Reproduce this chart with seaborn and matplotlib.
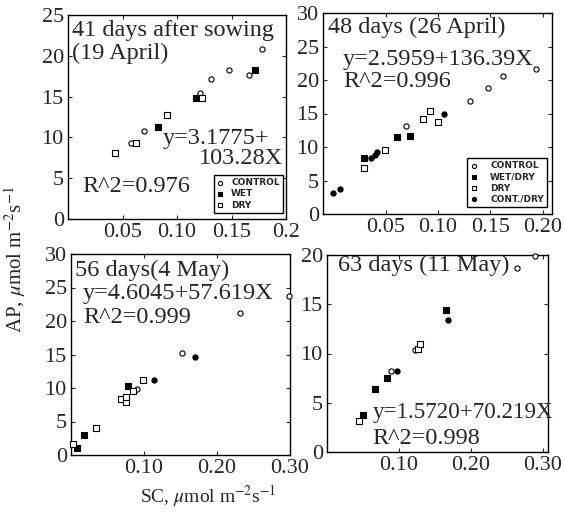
import matplotlib
matplotlib.use("Agg")
import matplotlib.pyplot as plt
import seaborn as sns
import pandas as pd

# ---------------- data ----------------
# Panel 1: 41 days after sowing (19 April)
p1_control_x = [0.058, 0.070, 0.121, 0.131, 0.148, 0.166, 0.178]
p1_control_y = [9.3, 10.8, 15.5, 17.1, 18.2, 17.6, 20.8]
p1_wet_x = [0.083, 0.117, 0.172]
p1_wet_y = [11.3, 14.8, 18.2]
p1_dry_x = [0.043, 0.062, 0.091, 0.123]
p1_dry_y = [8.1, 9.3, 12.8, 14.8]

# Panel 2: 48 days (26 April)
p2_control_x = [0.069, 0.131, 0.148, 0.162, 0.194]
p2_control_y = [13.1, 16.9, 18.8, 20.6, 21.7]
p2_wetdry_x = [0.029, 0.061, 0.073]
p2_wetdry_y = [8.3, 11.5, 11.7]
p2_dry_x = [0.029, 0.049, 0.086, 0.092, 0.100]
p2_dry_y = [6.9, 9.6, 14.2, 15.4, 13.7]
p2_contdry_x = [0.000, 0.006, 0.036, 0.040, 0.042, 0.106]
p2_contdry_y = [3.2, 3.75, 8.3, 8.85, 9.2, 14.95]

# Panel 3: 56 days (4 May)
p3_control_x = [0.090, 0.152, 0.232, 0.298]
p3_control_y = [9.8, 15.2, 21.2, 23.8]
p3_wetdry_x = [0.008, 0.018, 0.078]
p3_wetdry_y = [1.1, 3.0, 10.3]
p3_dry_x = [0.003, 0.034, 0.069, 0.075, 0.076, 0.085, 0.099]
p3_dry_y = [1.6, 4.0, 8.4, 7.9, 8.7, 9.6, 11.2]
p3_contdry_x = [0.114, 0.170]
p3_contdry_y = [11.2, 14.6]

# Panel 4: 63 days (11 May)
p4_control_x = [0.0885, 0.122, 0.2635, 0.289]
p4_control_y = [8.2, 10.4, 18.65, 19.9]
p4_wetdry_x = [0.050, 0.067, 0.084, 0.166]
p4_wetdry_y = [3.8, 6.4, 7.5, 14.4]
p4_dry_x = [0.045, 0.127, 0.129]
p4_dry_y = [3.1, 10.5, 11.0]
p4_contdry_x = [0.097, 0.1685]
p4_contdry_y = [8.25, 13.4]

titles = ["41 days after sowing", "48 days (26 April)", "56 days(4 May)", "63 days (11 May)"]
subtitle1 = "(19 April)"
equations = ["y=3.1775+", "y=2.5959+136.39X", "y=4.6045+57.619X", "y=1.5720+70.219X"]
equation1_cont = "103.28X"
r2_texts = ["R^2=0.976", "R^2=0.996", "R^2=0.999", "R^2=0.998"]

x_ticks = [[0.05, 0.10, 0.15, 0.20], [0.05, 0.10, 0.15, 0.20], [0.10, 0.20, 0.30], [0.10, 0.20, 0.30]]
x_ticklabels = [["0.05", "0.10", "0.15", "0.2"], ["0.05", "0.10", "0.15", "0.20"],
                ["0.10", "0.20", "0.30"], ["0.10", "0.20", "0.30"]]
y_ticks = [[0, 5, 10, 15, 20, 25], [0, 5, 10, 15, 20, 25, 30],
           [0, 5, 10, 15, 20, 25, 30], [0, 5, 10, 15, 20]]

# ---------------- styling ----------------
sns.set_style("ticks")
plt.rcParams['font.family'] = ['Liberation Serif', 'DejaVu Serif']
plt.rcParams['mathtext.fontset'] = 'stix'

STYLE = {
    "CONTROL": dict(marker='o', color='white', edgecolor='black'),
    "WET": dict(marker='s', color='black', edgecolor='black'),
    "WET/DRY": dict(marker='s', color='black', edgecolor='black'),
    "DRY": dict(marker='s', color='white', edgecolor='black'),
    "CONT./DRY": dict(marker='o', color='black', edgecolor='black'),
}

def make_df(groups):
    rows = []
    for name, xs, ys in groups:
        for x, y in zip(xs, ys):
            rows.append({"SC": x, "AP": y, "group": name})
    return pd.DataFrame(rows)

panels = [
    make_df([("CONTROL", p1_control_x, p1_control_y), ("WET", p1_wet_x, p1_wet_y),
             ("DRY", p1_dry_x, p1_dry_y)]),
    make_df([("CONTROL", p2_control_x, p2_control_y), ("WET/DRY", p2_wetdry_x, p2_wetdry_y),
             ("DRY", p2_dry_x, p2_dry_y), ("CONT./DRY", p2_contdry_x, p2_contdry_y)]),
    make_df([("CONTROL", p3_control_x, p3_control_y), ("WET/DRY", p3_wetdry_x, p3_wetdry_y),
             ("DRY", p3_dry_x, p3_dry_y), ("CONT./DRY", p3_contdry_x, p3_contdry_y)]),
    make_df([("CONTROL", p4_control_x, p4_control_y), ("WET/DRY", p4_wetdry_x, p4_wetdry_y),
             ("DRY", p4_dry_x, p4_dry_y), ("CONT./DRY", p4_contdry_x, p4_contdry_y)]),
]

W, H = 565, 513
fig = plt.figure(figsize=(W / 100, H / 100), dpi=100)

# axes boxes in pixels: left, right, top, bottom
boxes = [(68, 286, 15, 219), (323, 552, 13, 214), (71, 290, 254, 455), (327, 548, 255, 452)]
xlims = [(0, 0.2), (-0.01, 0.209), (0, 0.30), (0, 0.307)]
ylims = [(0, 25), (0, 30), (0, 30), (0, 20)]

axes = []
for (l, r, t, b) in boxes:
    axes.append(fig.add_axes([l / W, (H - b) / H, (r - l) / W, (b - t) / H]))

tick_fs = 16
txt_fs = 17.5

for i, ax in enumerate(axes):
    df = panels[i]
    for g in df["group"].unique():
        sub = df[df["group"] == g]
        sns.scatterplot(data=sub, x="SC", y="AP", ax=ax, s=14, linewidth=0.8,
                        label=g, clip_on=False, zorder=3, **STYLE[g])
    ax.set_xlim(*xlims[i])
    ax.set_ylim(*ylims[i])
    ax.set_xticks(x_ticks[i])
    ax.set_xticklabels(x_ticklabels[i])
    ax.set_yticks(y_ticks[i])
    ax.set_xlabel("")
    ax.set_ylabel("")
    ax.tick_params(direction='in', length=3, width=0.8, labelsize=tick_fs, pad=3,
                   top=True, right=True)
    for sp in ax.spines.values():
        sp.set_linewidth(1.0)
        sp.set_color('black')
    if ax.get_legend() is not None:
        ax.get_legend().remove()

# panel texts
a1, a2, a3, a4 = axes
a1.text(0.018, 0.926, titles[0], transform=a1.transAxes, fontsize=txt_fs, va='center', ha='left')
a1.text(0.018, 0.814, subtitle1, transform=a1.transAxes, fontsize=txt_fs, va='center', ha='left')
a1.text(0.436, 0.397, equations[0], transform=a1.transAxes, fontsize=txt_fs, va='center', ha='left')
a1.text(0.986, 0.299, equation1_cont, transform=a1.transAxes, fontsize=txt_fs, va='center', ha='right')
a1.text(0.064, 0.157, r2_texts[0], transform=a1.transAxes, fontsize=txt_fs, va='center', ha='left')

a2.text(0.022, 0.930, titles[1], transform=a2.transAxes, fontsize=txt_fs, va='center', ha='left')
a2.text(0.087, 0.771, equations[1], transform=a2.transAxes, fontsize=txt_fs, va='center', ha='left')
a2.text(0.087, 0.657, r2_texts[1], transform=a2.transAxes, fontsize=txt_fs, va='center', ha='left')

a3.text(0.018, 0.920, titles[2], transform=a3.transAxes, fontsize=txt_fs, va='center', ha='left')
a3.text(0.055, 0.801, equations[2], transform=a3.transAxes, fontsize=txt_fs, va='center', ha='left')
a3.text(0.055, 0.682, r2_texts[2], transform=a3.transAxes, fontsize=txt_fs, va='center', ha='left')

a4.text(0.050, 0.949, titles[3], transform=a4.transAxes, fontsize=txt_fs, va='center', ha='left')
a4.text(0.208, 0.203, equations[3], transform=a4.transAxes, fontsize=16.6, va='center', ha='left')
a4.text(0.204, 0.071, r2_texts[3], transform=a4.transAxes, fontsize=txt_fs, va='center', ha='left')

# legends
for ax, anchor, fs, htp in [(a1, (0.986, 0.03), 6.5, 0.8), (a2, (0.978, 0.035), 6.5, 1.4)]:
    leg = ax.legend(loc='lower right', bbox_to_anchor=anchor,
                    prop={'family': 'DejaVu Sans', 'weight': 'bold', 'size': fs},
                    frameon=True, fancybox=False, framealpha=1, edgecolor='black',
                    handletextpad=htp, labelspacing=0.25, borderpad=0.35,
                    handlelength=0.8, borderaxespad=0, markerscale=0.8)
    leg.get_frame().set_linewidth(1.0)

# axis labels
fig.text(15 / W, 1 - 260 / H, r'AP, $\mu$mol m$^{-2}$s$^{-1}$', rotation=90,
         ha='center', va='center', fontsize=15)
fig.text(208 / W, 1 - 496 / H, r'SC, $\mu$mol m$^{-2}$s$^{-1}$',
         ha='center', va='center', fontsize=14)

fig.savefig("out.png", dpi=100)
